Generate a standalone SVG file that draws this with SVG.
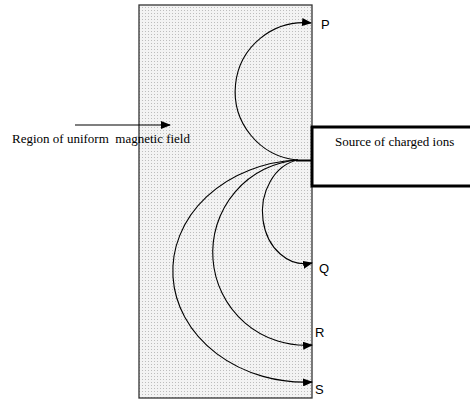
<svg xmlns="http://www.w3.org/2000/svg" width="470" height="401" viewBox="0 0 470 401">
<defs>
<pattern id="dots" width="3" height="3" patternUnits="userSpaceOnUse">
<rect width="3" height="3" fill="#f3f3f3"/>
<rect x="1" y="1" width="1" height="1" fill="#bdbdbd"/>
</pattern>
<marker id="ah" markerWidth="10" markerHeight="8" refX="9" refY="4" orient="auto" markerUnits="userSpaceOnUse">
<path d="M0,0 L10,4 L0,8 Z" fill="#000"/>
</marker>
</defs>
<style>
.path{fill:none;stroke:#000;stroke-width:1.1}
.lbl{font-family:"Liberation Sans",Arial,sans-serif;font-size:13px;fill:#000}
.txt{font-family:"Liberation Serif","Times New Roman",serif;font-size:13px;fill:#000}
</style>
<rect width="470" height="401" fill="#fff"/>
<g id="field">
<rect x="139" y="5" width="173" height="393" fill="url(#dots)" stroke="#333" stroke-width="1.3"/>
</g>
<g id="source">
<rect x="312" y="127" width="162" height="59" fill="#fff" stroke="#000" stroke-width="3"/>
<text class="txt" x="335" y="146">Source of charged ions</text>
</g>
<g id="region-label">
<text class="txt" x="12" y="143" xml:space="preserve">Region of uniform  magnetic field</text>
</g>
<g id="connectors">
<line class="path" x1="75" y1="125" x2="170" y2="125" marker-end="url(#ah)"/>
<line x1="296" y1="160.5" x2="312" y2="160.5" stroke="#000" stroke-width="2"/>
<path class="path" d="M297,160 A68.5 68.5 0 0 1 311,23" marker-end="url(#ah)"/>
<path class="path" d="M298,160 A42 51.5 0 0 0 312,263" marker-end="url(#ah)"/>
<path class="path" d="M298,160 A92 92.5 0 0 0 312,345" marker-end="url(#ah)"/>
<path class="path" d="M298,160 A132 111 0 0 0 312,382" marker-end="url(#ah)"/>
</g>
<g id="labels">
<text class="lbl" x="321" y="29">P</text>
<text class="lbl" x="319" y="273">Q</text>
<text class="lbl" x="315" y="337">R</text>
<text class="lbl" x="315" y="394">S</text>
</g>
</svg>
